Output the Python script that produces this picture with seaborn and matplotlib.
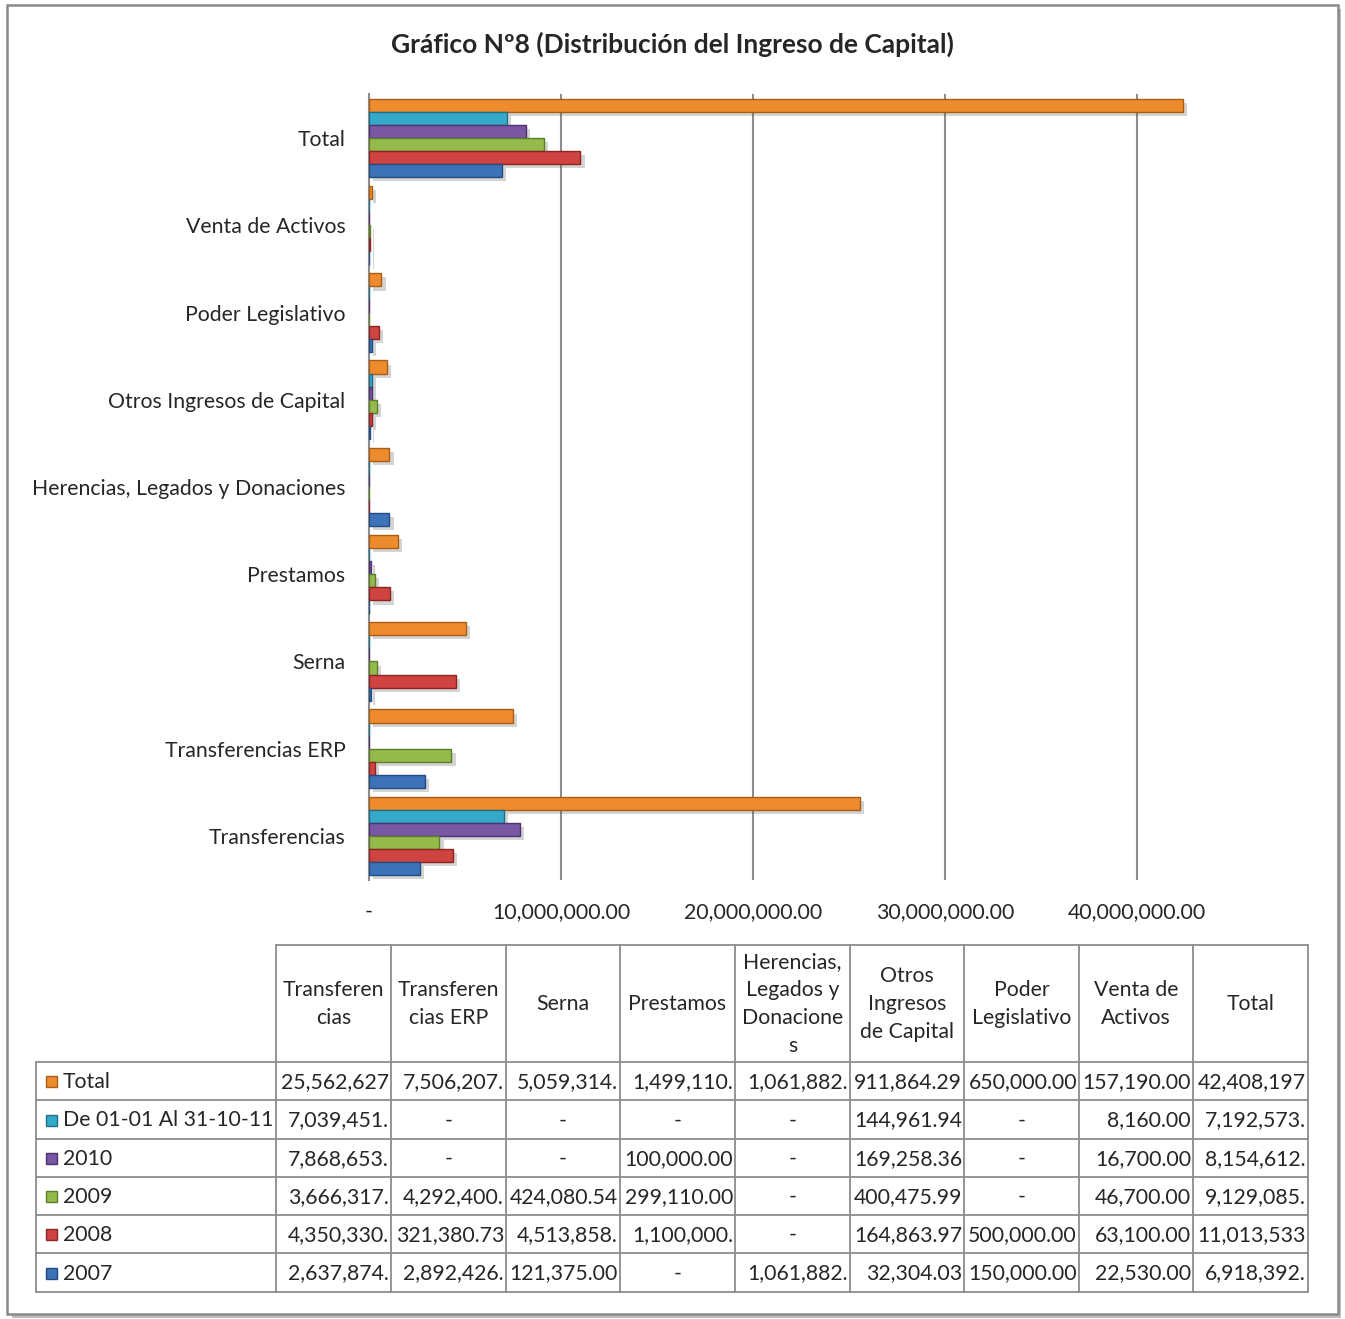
import numpy as np
import pandas as pd
import matplotlib
matplotlib.use("Agg")
import matplotlib.pyplot as plt
from matplotlib.patches import Rectangle
import matplotlib.patheffects as pe
import seaborn as sns

# ---------------- data ----------------
categories = ["Transferencias", "Transferencias ERP", "Serna", "Prestamos",
              "Herencias, Legados y Donaciones", "Otros Ingresos de Capital",
              "Poder Legislativo", "Venta de Activos", "Total"]
col_headers = ["Transferen\ncias", "Transferen\ncias ERP", "Serna", "Prestamos",
               "Herencias,\nLegados y\nDonacione\ns", "Otros\nIngresos\nde Capital",
               "Poder\nLegislativo", "Venta de\nActivos", "Total"]
series_names = ["Total", "De 01-01 Al 31-10-11", "2010", "2009", "2008", "2007"]

total_vals = [25562627, 7506207, 5059314, 1499110, 1061882, 911864.29, 650000.00, 157190.00, 42408197]
y2011_vals = [7039451, 0, 0, 0, 0, 144961.94, 0, 8160.00, 7192573]
y2010_vals = [7868653, 0, 0, 100000.00, 0, 169258.36, 0, 16700.00, 8154612]
y2009_vals = [3666317, 4292400, 424080.54, 299110.00, 0, 400475.99, 0, 46700.00, 9129085]
y2008_vals = [4350330, 321380.73, 4513858, 1100000, 0, 164863.97, 500000.00, 63100.00, 11013533]
y2007_vals = [2637874, 2892426, 121375.00, 0, 1061882, 32304.03, 150000.00, 22530.00, 6918392]

series_values = [total_vals, y2011_vals, y2010_vals, y2009_vals, y2008_vals, y2007_vals]
colors = ["#EE8B2C", "#34A9C8", "#7A57A3", "#94BA4C", "#CF4440", "#3B72B8"]
edge_colors = ["#A85E17", "#1F6F86", "#4B3370", "#5E7D2A", "#8A2523", "#234C80"]

xticks = [0, 10000000, 20000000, 30000000, 40000000]

# ---------------- figure ----------------
W, H = 1345, 1319
fig = plt.figure(figsize=(W / 100, H / 100), dpi=100)
sns.set_style("white")
plt.rcParams["font.family"] = ["Lato", "DejaVu Sans"]
FS = 15.3

rows = []
for s, vals in zip(series_names, series_values):
    for c, v in zip(categories, vals):
        rows.append({"cat": c, "series": s, "value": v})
df = pd.DataFrame(rows)

ax_l, ax_r, ax_t, ax_b = 369, 1310, 94.4, 879.6
ax = fig.add_axes([ax_l / W, 1 - ax_b / H, (ax_r - ax_l) / W, (ax_b - ax_t) / H])
order = categories[::-1]
pal = dict(zip(series_names, colors))
sns.barplot(data=df, y="cat", x="value", hue="series", order=order,
            hue_order=series_names, palette=pal, orient="h", width=0.9,
            saturation=1, linewidth=1.0, ax=ax, legend=False, zorder=3)
n_cat = len(order)
for i, bar in enumerate(ax.patches[: n_cat * len(series_names)]):
    k = i // n_cat
    bar.set_edgecolor(edge_colors[k])
    bar.set_path_effects([pe.SimplePatchShadow(offset=(3, -3), alpha=0.25, shadow_rgbFace="#555555"),
                          pe.Normal()])

xmax = (ax_r - ax_l) / 192.0 * 10000000
ax.set_xlim(0, xmax)
ax.set_ylim(n_cat - 0.5, -0.5)
ax.set_xticks(xticks)
ax.set_xticklabels(["-" if v == 0 else f"{v:,.2f}" for v in xticks], fontsize=FS)
ax.tick_params(axis="x", length=0, pad=16)
ax.tick_params(axis="y", length=0, pad=17, labelsize=FS)
ax.set_xlabel("")
ax.set_ylabel("")
for sp in ["top", "right", "bottom"]:
    ax.spines[sp].set_visible(False)
ax.spines["left"].set_color("#8C8C8C")
ax.spines["left"].set_linewidth(1.5)
ax.grid(axis="x", color="#8C8C8C", linewidth=1.5, zorder=0)
ax.set_axisbelow(True)
ax.set_facecolor("none")

# ---------------- overlay for frame, title, table ----------------
ov = fig.add_axes([0, 0, 1, 1], zorder=-1)
ov.set_xlim(0, W)
ov.set_ylim(H, 0)
ov.axis("off")
ov.add_patch(Rectangle((12, 9), 1329, 1309, facecolor="#BDBDBD", edgecolor="none"))
ov.add_patch(Rectangle((7, 5), 1331, 1309, facecolor="white", edgecolor="#8A8A8A", linewidth=1.8))

fig.text(672 / W, 1 - 44 / H, "Gráfico Nº8 (Distribución del Ingreso de Capital)",
         ha="center", va="center", fontsize=19, fontweight="bold")

# table
tx = ov
col_x = [276, 391, 506, 620, 735, 850, 964, 1079, 1193, 1308]
label_x0 = 36
row_y = [945, 1062, 1100, 1139, 1177, 1215, 1253, 1292]
lc = "#8C8C8C"
lw = 1.3
for x in col_x:
    tx.plot([x, x], [row_y[0], row_y[-1]], color=lc, lw=lw)
tx.plot([col_x[0], col_x[-1]], [row_y[0], row_y[0]], color=lc, lw=lw)
for y in row_y[1:]:
    tx.plot([label_x0, col_x[-1]], [y, y], color=lc, lw=lw)
tx.plot([label_x0, label_x0], [row_y[1], row_y[-1]], color=lc, lw=lw)

for j, h in enumerate(col_headers):
    cx = (col_x[j] + col_x[j + 1]) / 2
    tx.text(cx, (row_y[0] + row_y[1]) / 2 + 1, h, ha="center", va="center",
            fontsize=FS, linespacing=1.5)


def fmt(v):
    if v == 0:
        return "-"
    return f"{v:,.2f}"[:10]


for i, (s, vals) in enumerate(zip(series_names, series_values)):
    y0, y1 = row_y[i + 1], row_y[i + 2]
    cy = (y0 + y1) / 2 + 1
    tx.add_patch(Rectangle((46, cy - 6), 11, 11, facecolor=colors[i],
                           edgecolor=edge_colors[i], linewidth=1))
    tx.text(63, cy, s, ha="left", va="center", fontsize=FS)
    for j, v in enumerate(vals):
        t = fmt(v)
        if t == "-":
            tx.text((col_x[j] + col_x[j + 1]) / 2, cy, t, ha="center", va="center", fontsize=FS)
        else:
            tx.text(col_x[j + 1] - 2, cy, t, ha="right", va="center", fontsize=FS)

fig.savefig("out.png", dpi=100)
